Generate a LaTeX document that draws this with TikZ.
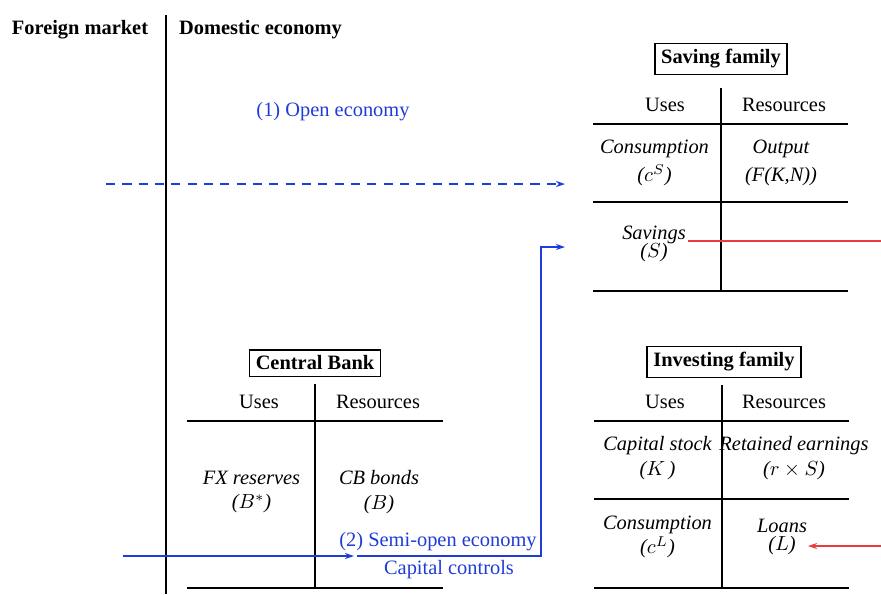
\documentclass[tikz,border=0pt]{standalone}
\usepackage{fontspec}
\setmainfont{Liberation Serif}
\usepackage{amsmath}
\usetikzlibrary{calc,arrows.meta}
\definecolor{flowblue}{RGB}{30,60,215}
\definecolor{flowred}{RGB}{235,60,60}

\begin{document}
\begin{tikzpicture}[x=0.49pt, y=-0.49pt,
    title/.style={draw=black, line width=0.8pt, inner sep=3pt, font=\bfseries},
    entry/.style={align=center, font=\itshape},
    rule/.style={line width=0.8pt},
    flow/.style={draw=flowblue, line width=0.7pt},
    redflow/.style={draw=flowred, line width=0.6pt},
    tip/.style={-{Stealth[length=4.5pt,width=3pt]}}]

    \useasboundingbox (0,0) rectangle (881,594);

    % foreign / domestic split
    \draw[line width=0.9pt] (166,15) -- (166,594);
    \node[font=\bfseries] (fm) at (80,30) {Foreign market};
    \node[font=\bfseries] (de) at (260.5,30) {Domestic economy};

    % saving family
    \node[title] (sf) at (721,59) {Saving family};
    \draw[rule] (721,88) -- (721,291);
    \foreach \y in {124,202,291} \draw[rule] (593,\y) -- (848,\y);
    \node (sf u) at (665,105) {Uses};
    \node (sf r) at (784,105) {Resources};
    \node[entry] (sf c) at (654.5,163) {Consumption\\[2pt]($c^S$)};
    \node[entry] (sf o) at (781,163) {Output\\[2pt](F(K,N))};
    \node[entry] (sf s) at (654,244) {Savings\\[-3pt]($S$)};

    % investing family
    \node[title] (if) at (724,362) {Investing family};
    \draw[rule] (722,385) -- (722,588);
    \foreach \y in {421,499,588} \draw[rule] (594,\y) -- (849,\y);
    \node (if u) at (665,402) {Uses};
    \node (if r) at (784,402) {Resources};
    \node[entry] (if k) at (657.5,458) {Capital stock\\($K$\,)};
    \node[entry] (if e) at (794,458) {Retained earnings\\($r \times S$)};
    \node[entry] (if c) at (657.5,537) {Consumption\\($c^L$)};
    \node[entry] (if l) at (782,537) {Loans\\[-3pt]($L$)};

    % central bank
    \node[title] (cb) at (315,363) {Central Bank};
    \draw[rule] (315,384) -- (315,588);
    \foreach \y in {421,588} \draw[rule] (187,\y) -- (443,\y);
    \node (cb u) at (259,402) {Uses};
    \node (cb r) at (378,402) {Resources};
    \node[entry] (cb fx) at (251.5,492) {FX reserves\\($B^*$)};
    \node[entry] (cb b) at (379,492) {CB bonds\\($B$)};

    % (1) open economy
    \node[text=flowblue] (open) at (333,112) {(1) Open economy};
    \coordinate (open src) at (106,184);
    \coordinate (open dst) at (565,184);
    \draw[flow, tip, dash pattern=on 4.5pt off 3.5pt] (open src) -- (open dst);

    % (2) semi-open economy
    \coordinate (semi src) at (123,556);
    \coordinate (semi gate) at (354,556);
    \coordinate (semi turn) at (541,556);
    \coordinate (semi dst) at (565,247);
    \node[text=flowblue, anchor=south] (semi) at ($(semi gate)+(84,2)$) {(2) Semi-open economy};
    \node[text=flowblue, anchor=north] (ctrl) at ($(semi gate)+(95,-3)$) {Capital controls};
    \draw[flow, tip] (semi src) -- (semi gate);
    \draw[flow, tip] ($(semi gate)+(3,0)$) -- (semi turn) |- (semi dst);

    % red flows
    \coordinate (sv src) at (881,241);
    \coordinate (sv dst) at (688,241);
    \draw[redflow] (sv src) -- (sv dst);
    \coordinate (ln src) at (881,546);
    \coordinate (ln dst) at (808,546);
    \draw[redflow, tip] (ln src) -- (ln dst);

\end{tikzpicture}
\end{document}
